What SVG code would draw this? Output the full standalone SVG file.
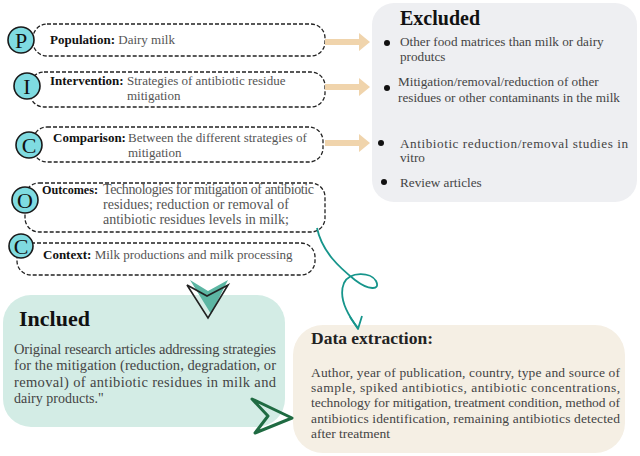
<svg xmlns="http://www.w3.org/2000/svg" width="640" height="456" viewBox="0 0 640 456">
<style>
text{font-family:"Liberation Serif","Times New Roman",serif;}
.dash{fill:#fff;stroke:#222;stroke-width:1.3;stroke-dasharray:4 2;}
.circ{fill:#7fdbe1;stroke:#1a1a1a;stroke-width:1.6;}
.let{font-size:22px;fill:#111;text-anchor:middle;}
.lab{font-size:13px;font-weight:bold;fill:#111;}
.txt{font-size:13px;fill:#555;}
.otx{font-size:14px;fill:#555;}
.ex{font-size:13.2px;fill:#444;}
.inc{font-size:14.5px;fill:#444;}
.dat{font-size:13.5px;fill:#444;}
.oa{fill:#f0d4ac;}
</style>
<rect width="640" height="456" fill="#fff"/>

<g id="excluded">
<rect x="372" y="3" width="265" height="199" rx="22" fill="#eeeff2"/>
<text x="400" y="25" font-size="20" font-weight="bold" fill="#111">Excluded</text>
<circle cx="387" cy="43" r="3" fill="#111"/>
<text class="ex" x="400" y="46">Other food matrices than milk or dairy</text>
<text class="ex" x="400" y="61">produtcs</text>
<circle cx="387" cy="88" r="3" fill="#111"/>
<text class="ex" x="398" y="86">Mitigation/removal/reduction of other</text>
<text class="ex" x="398" y="102">residues or other contaminants in the milk</text>
<circle cx="381" cy="143" r="3" fill="#111"/>
<text class="ex" x="400" y="148" textLength="228" lengthAdjust="spacing">Antibiotic reduction/removal studies in</text>
<text class="ex" x="400" y="162">vitro</text>
<circle cx="384" cy="182" r="3" fill="#111"/>
<text class="ex" x="400" y="187">Review articles</text>
</g>

<g id="population">
<rect class="dash" x="33" y="24" width="292" height="32" rx="14"/>
<circle class="circ" cx="21" cy="40" r="13"/>
<text class="let" x="21" y="48">P</text>
<text x="50" y="44"><tspan class="lab">Population:</tspan><tspan class="txt"> Dairy milk</tspan></text>
</g>

<g id="intervention">
<rect class="dash" x="30" y="72" width="295" height="35" rx="14"/>
<circle class="circ" cx="27" cy="86" r="13"/>
<text class="let" x="27" y="94">I</text>
<text class="lab" x="50" y="85">Intervention:</text>
<text class="txt" x="127" y="85">Strategies of antibiotic residue</text>
<text class="txt" x="127" y="100">mitigation</text>
</g>

<g id="comparison">
<rect class="dash" x="33" y="127" width="290" height="35" rx="14"/>
<circle class="circ" cx="29" cy="145" r="13"/>
<text class="let" x="29" y="153">C</text>
<text class="lab" x="53" y="142">Comparison:</text>
<text class="txt" x="128" y="142">Between the different strategies of</text>
<text class="txt" x="128" y="157">mitigation</text>
</g>

<g id="outcomes">
<rect class="dash" x="25" y="183" width="300" height="49" rx="14"/>
<circle class="circ" cx="25" cy="200" r="13"/>
<text class="let" x="25" y="208">O</text>
<text class="lab" x="42" y="194" textLength="56" lengthAdjust="spacingAndGlyphs">Outcomes:</text>
<text class="otx" x="103" y="194" textLength="211" lengthAdjust="spacing">Technologies for mitigation of antibiotic</text>
<text class="otx" x="103" y="209">residues; reduction or removal of</text>
<text class="otx" x="103" y="224">antibiotic residues levels in milk;</text>
</g>

<g id="context">
<rect class="dash" x="17" y="243" width="298" height="32" rx="14"/>
<circle class="circ" cx="21" cy="246" r="12"/>
<text class="let" x="21" y="254">C</text>
<text x="43" y="259"><tspan class="lab">Context:</tspan><tspan class="txt"> Milk productions and milk processing</tspan></text>
</g>

<g id="included">
<rect x="3" y="295" width="282" height="132" rx="28" fill="#d3ece5"/>
<text x="19" y="326" font-size="22" font-weight="bold" fill="#111">Inclued</text>
<text class="inc" x="14" y="354" textLength="262" lengthAdjust="spacing">Original research articles addressing strategies</text>
<text class="inc" x="14" y="370" textLength="262" lengthAdjust="spacing">for the mitigation (reduction, degradation, or</text>
<text class="inc" x="14" y="387" textLength="262" lengthAdjust="spacing">removal) of antibiotic residues in milk and</text>
<text class="inc" x="14" y="403" style="font-size:14px">dairy products."</text>
</g>

<g id="data-extraction">
<rect x="293" y="325" width="332" height="128" rx="30" fill="#f5efe4"/>
<text x="311" y="344" font-size="17.5" font-weight="bold" fill="#222">Data extraction:</text>
<text class="dat" x="311" y="377" textLength="309" lengthAdjust="spacing">Author, year of publication, country, type and source of</text>
<text class="dat" x="311" y="392" textLength="309" lengthAdjust="spacing">sample, spiked antibiotics, antibiotic concentrations,</text>
<text class="dat" x="311" y="407" textLength="309" lengthAdjust="spacing">technology for mitigation, treatment condition, method of</text>
<text class="dat" x="311" y="423" textLength="309" lengthAdjust="spacing">antibiotics identification, remaining antibiotics detected</text>
<text class="dat" x="311" y="438">after treatment</text>
</g>

<g id="connectors">
<polygon class="oa" points="325,39 359,39 359,33 370,42 359,51 359,45 325,45"/>
<polygon class="oa" points="325,84 359,84 359,78 370,87 359,96 359,90 325,90"/>
<polygon class="oa" points="325,140 359,140 359,134 370,143 359,152 359,146 325,146"/>
<path d="M317,228 C322,252 340,268 355,280 C368,290 381,291 376,281 C371,272 350,271 344,283 C339,295 344,310 358,328" fill="none" stroke="#16958b" stroke-width="1.8"/>
<polyline points="350,317 358,329 362,316" fill="none" stroke="#16958b" stroke-width="1.8" stroke-linejoin="round"/>
<polygon points="190,280 208,291 228,280 211,314" fill="#5cb6a3"/>
<polygon points="187,285 207,296 228,285 208,318" fill="none" stroke="#222" stroke-width="1.6"/>
<polygon points="252,399 292,418 255,433 268,416" fill="none" stroke="#1f6b42" stroke-width="3" stroke-linejoin="round"/>
</g>
</svg>
